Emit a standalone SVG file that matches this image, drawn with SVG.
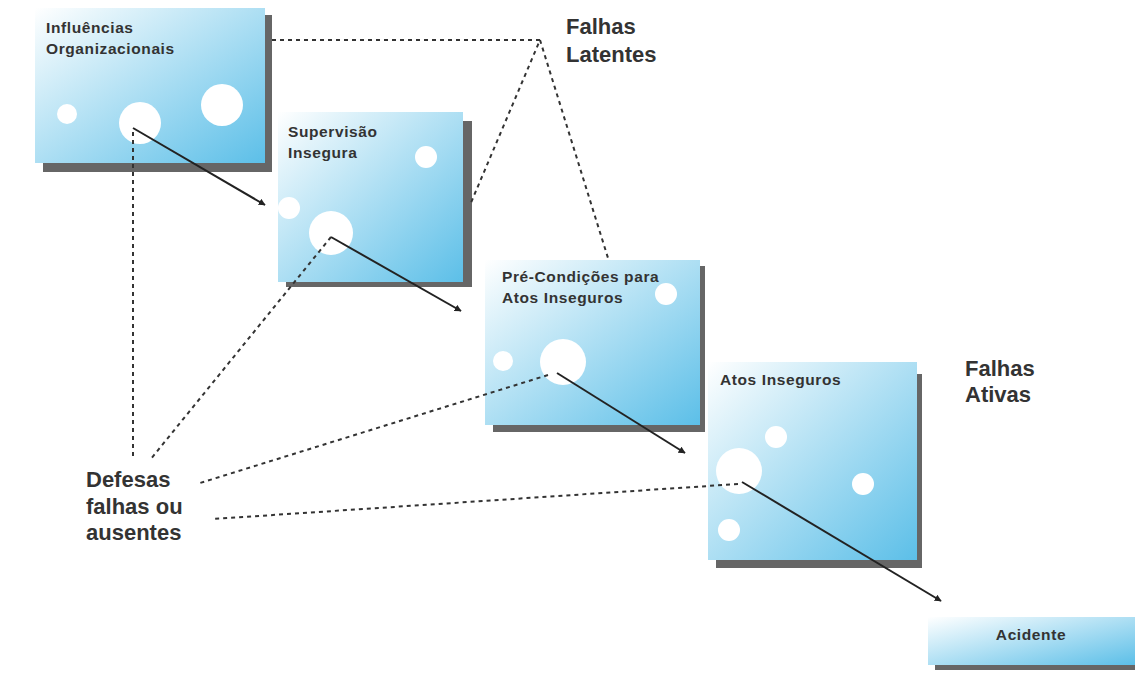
<svg xmlns="http://www.w3.org/2000/svg" width="1135" height="679" viewBox="0 0 1135 679">
<defs>
<linearGradient id="g" x1="0" y1="0" x2="1" y2="1">
<stop offset="0" stop-color="#ffffff"/>
<stop offset="0.15" stop-color="#e6f5fb"/>
<stop offset="1" stop-color="#5cbfe8"/>
</linearGradient>
<linearGradient id="g2" x1="0" y1="0" x2="1" y2="1">
<stop offset="0" stop-color="#ffffff"/>
<stop offset="1" stop-color="#5cbfe8"/>
</linearGradient>
<marker id="ah" viewBox="0 0 10 10" refX="9" refY="5" markerWidth="7" markerHeight="7" orient="auto" markerUnits="userSpaceOnUse">
<path d="M0,0 L10,5 L0,10 z" fill="#222"/>
</marker>
<style>
.shadow{fill:#666}
.box{fill:url(#g)}
.hole{fill:#fff}
.t{font-family:"Liberation Sans",Arial,sans-serif;font-weight:bold;fill:#333;font-size:15.5px;letter-spacing:0.6px}
.big{font-family:"Liberation Sans",Arial,sans-serif;fill:#333;font-size:22px;font-weight:bold}
.dot{stroke:#333;stroke-width:2;stroke-dasharray:4 4;fill:none}
.arr{stroke:#222;stroke-width:2;fill:none;marker-end:url(#ah)}
</style>
</defs>
<rect width="1135" height="679" fill="#fff"/>

<g id="node-influencias">
<rect class="shadow" x="43" y="15" width="229" height="157"/>
<rect class="box" x="35" y="8" width="230" height="155"/>
<circle class="hole" cx="67" cy="114" r="10"/>
<circle class="hole" cx="140" cy="123" r="21"/>
<circle class="hole" cx="222" cy="105" r="21"/>
<text class="t" x="46" y="33">Influências</text>
<text class="t" x="46" y="54">Organizacionais</text>
</g>

<g id="node-supervisao">
<rect class="shadow" x="286" y="121" width="186" height="166"/>
<rect class="box" x="278" y="112" width="185" height="170"/>
<circle class="hole" cx="426" cy="157" r="11"/>
<circle class="hole" cx="289" cy="208" r="11"/>
<circle class="hole" cx="331" cy="233" r="22"/>
<text class="t" x="288" y="137">Supervisão</text>
<text class="t" x="288" y="158">Insegura</text>
</g>

<g id="node-precondicoes">
<rect class="shadow" x="493" y="266" width="212" height="166"/>
<rect class="box" x="485" y="260" width="215" height="165"/>
<circle class="hole" cx="666" cy="294" r="11"/>
<circle class="hole" cx="503" cy="361" r="10"/>
<circle class="hole" cx="563" cy="362" r="23"/>
<text class="t" x="502" y="282">Pré-Condições para</text>
<text class="t" x="502" y="303">Atos Inseguros</text>
</g>

<g id="node-atos">
<rect class="shadow" x="716" y="374" width="206" height="194"/>
<rect class="box" x="708" y="362" width="209" height="198"/>
<circle class="hole" cx="776" cy="437" r="11"/>
<circle class="hole" cx="739" cy="471" r="23"/>
<circle class="hole" cx="863" cy="484" r="11"/>
<circle class="hole" cx="729" cy="530" r="11"/>
<text class="t" x="720" y="385">Atos Inseguros</text>
</g>

<g id="node-acidente">
<rect class="shadow" x="935" y="626" width="200" height="44"/>
<rect x="928" y="617" width="207" height="48" fill="url(#g2)"/>
<text class="t" x="1031" y="640" text-anchor="middle">Acidente</text>
</g>

<g id="labels">
<text class="big" x="566" y="34">Falhas</text>
<text class="big" x="566" y="62">Latentes</text>
<text class="big" x="965" y="376">Falhas</text>
<text class="big" x="965" y="402">Ativas</text>
<text class="big" x="86" y="487">Defesas</text>
<text class="big" x="86" y="514">falhas ou</text>
<text class="big" x="86" y="540">ausentes</text>
</g>

<g id="connectors">
<polyline class="dot" points="272,40 540,40 470,205"/>
<line class="dot" x1="540" y1="40" x2="608" y2="258"/>
<line class="dot" x1="133" y1="132" x2="133" y2="458"/>
<line class="dot" x1="331" y1="237" x2="150" y2="460"/>
<line class="dot" x1="548" y1="375" x2="200" y2="483"/>
<line class="dot" x1="738" y1="484" x2="213" y2="519"/>
<line class="arr" x1="133" y1="128" x2="265" y2="205"/>
<line class="arr" x1="331" y1="237" x2="461" y2="311"/>
<line class="arr" x1="557" y1="373" x2="685" y2="453"/>
<line class="arr" x1="742" y1="482" x2="941" y2="601"/>
</g>
</svg>
